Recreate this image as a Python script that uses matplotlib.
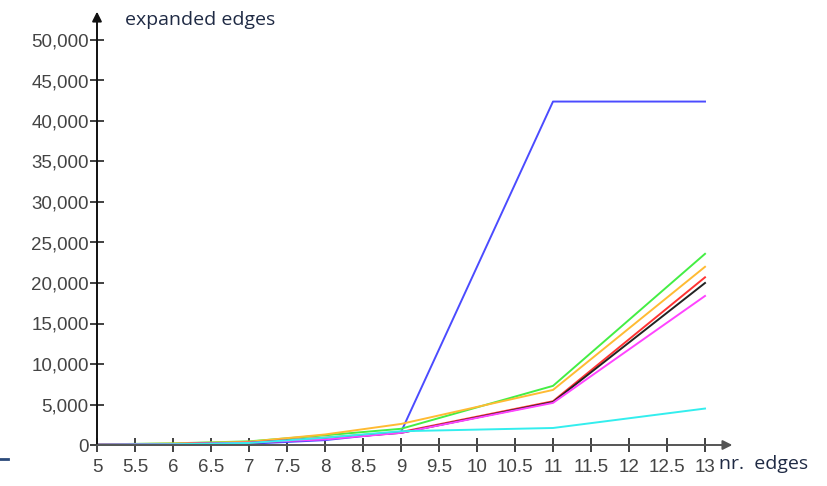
import matplotlib
matplotlib.use("Agg")
import matplotlib.pyplot as plt
from matplotlib.ticker import FuncFormatter, MultipleLocator

# nr. of edges at which each run was measured
edges = [5, 6, 7, 8, 9, 11, 13]

# expanded edges per run
series = {
    "#4b4bff": [30, 40, 150, 600, 1600, 42400, 42400],   # blue
    "#44ee44": [80, 200, 450, 1200, 2000, 7300, 23600],  # green
    "#ffbb33": [60, 180, 400, 1300, 2600, 6800, 22000],  # orange
    "#ff3333": [40, 120, 300, 900, 1600, 5400, 20700],   # red
    "#222222": [30, 100, 250, 800, 1500, 5300, 20000],   # black
    "#ff44ff": [60, 120, 280, 700, 1500, 5200, 18400],   # magenta
    "#33eeee": [40, 90, 250, 900, 1700, 2100, 4500],     # cyan
}

W, H = 827, 486
fig = plt.figure(figsize=(W / 100, H / 100), dpi=100)
x0, x1 = 97, 705
y0, y1 = 445, 40
ax = fig.add_axes([x0 / W, 1 - y0 / H, (x1 - x0) / W, (y0 - y1) / H])

for color, vals in series.items():
    ax.plot(edges, vals, color=color, lw=1.4, clip_on=False, zorder=3)

ax.set_xlim(5, 13)
ax.set_ylim(0, 50000)
for s in ax.spines.values():
    s.set_visible(False)

ax.xaxis.set_major_locator(MultipleLocator(0.5))
ax.yaxis.set_major_locator(MultipleLocator(5000))
ax.xaxis.set_major_formatter(FuncFormatter(lambda v, p: f"{v:g}"))
ax.yaxis.set_major_formatter(FuncFormatter(lambda v, p: f"{int(v):,}"))

tick_font = ["Liberation Sans Narrow", "Liberation Sans", "DejaVu Sans"]
ax.tick_params(axis="both", direction="inout", length=10, width=1.3,
               colors="#333333", labelcolor="#444444", labelsize=13.5)
ax.tick_params(axis="x", pad=5)
ax.tick_params(axis="y", pad=1)
for lab in ax.get_xticklabels() + ax.get_yticklabels():
    lab.set_family(tick_font)

# axis lines with arrow heads
ax.annotate("", xy=(0, 1.07), xytext=(0, 0), xycoords="axes fraction",
            arrowprops=dict(arrowstyle="-|>", color="#111111", lw=1.4,
                            mutation_scale=14, shrinkA=0, shrinkB=0), zorder=5)
ax.annotate("", xy=(1.045, 0), xytext=(0, 0), xycoords="axes fraction",
            arrowprops=dict(arrowstyle="-|>", color="#555555", lw=1.4,
                            mutation_scale=14, shrinkA=0, shrinkB=0), zorder=5)

label_color = "#1f2a44"
fig.text(125 / W, 1 - 20 / H, "expanded edges", fontsize=14, color=label_color,
         family=["Open Sans", "DejaVu Sans"], va="center", ha="left")
fig.text(719 / W, 1 - 464 / H, "nr.  edges", fontsize=14, color=label_color,
         family=["Open Sans", "DejaVu Sans"], va="center", ha="left")

# small dash in the lower left corner
fig.add_artist(plt.Line2D([0, 8 / W], [1 - 459 / H, 1 - 459 / H],
                          color="#2b4a7a", lw=2))

fig.savefig("out.png", dpi=100)
